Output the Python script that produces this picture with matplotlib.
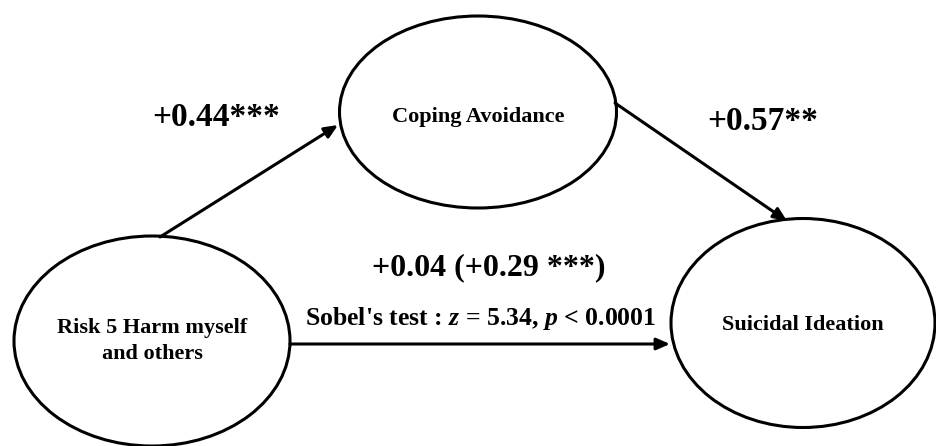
import matplotlib.pyplot as plt
from matplotlib.patches import Ellipse

plt.rcParams['font.family'] = ['Liberation Serif', 'DejaVu Serif']
plt.rcParams['mathtext.fontset'] = 'custom'
plt.rcParams['mathtext.it'] = 'Liberation Serif:italic:bold'
plt.rcParams['mathtext.rm'] = 'Liberation Serif:bold'

# node labels and path coefficients
nodes = ['Risk 5 Harm myself\nand others', 'Coping Avoidance', 'Suicidal Ideation']
path_a = '+0.44***'
path_b = '+0.57**'
path_c = '+0.04 (+0.29 ***)'
sobel = "Sobel's test : $\\mathit{z}$ = 5.34, $\\mathit{p}$ < 0.0001"

# layout (pixel coordinates)
centers = [(152, 341), (478, 112), (803, 323)]
sizes = [(276, 210), (277, 192), (264, 209)]
label_y = [341, 117, 325]

fig = plt.figure(figsize=(9.36, 4.46), dpi=100)
ax = fig.add_axes([0, 0, 1, 1])
ax.set_xlim(0, 936)
ax.set_ylim(446, 0)
ax.axis('off')

for (cx, cy), (w, h), ly, name in zip(centers, sizes, label_y, nodes):
    ax.add_patch(Ellipse((cx, cy), w, h, fill=False, lw=2.2, ec='black'))
    ax.text(cx, ly, name, ha='center', va='center', fontsize=16,
            fontweight='bold', linespacing=1.35, multialignment='center')

arrow = dict(arrowstyle='-|>,head_length=0.8,head_width=0.35', lw=2.2, color='black',
             shrinkA=0, shrinkB=0)
ax.annotate('', xy=(338, 125), xytext=(160, 237), arrowprops=arrow)
ax.annotate('', xy=(787, 221), xytext=(615, 103), arrowprops=arrow)
ax.annotate('', xy=(670, 344), xytext=(290, 344), arrowprops=arrow)

ax.text(216, 117, path_a, ha='center', va='center', fontsize=24, fontweight='bold')
ax.text(763, 122, path_b, ha='center', va='center', fontsize=24, fontweight='bold')
ax.text(489, 268, path_c, ha='center', va='center', fontsize=23, fontweight='bold')
ax.text(481, 318, sobel, ha='center', va='center', fontsize=18.5, fontweight='bold')

fig.savefig('out.png', dpi=100)
